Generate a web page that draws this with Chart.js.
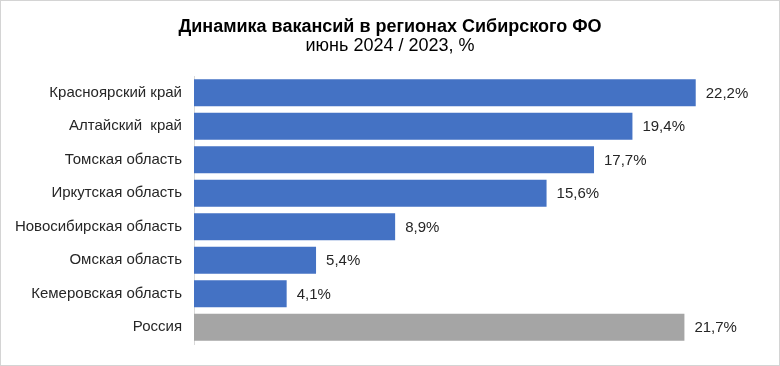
<!DOCTYPE html>
<html>
<head>
<meta charset="utf-8">
<script src="https://cdn.jsdelivr.net/npm/chart.js@4"></script>
<style>
  html, body { margin: 0; padding: 0; background: #fff; }
  #wrap { width: 780px; height: 366px; box-sizing: border-box; border: 1px solid #d4d4d4; position: relative; }
  canvas { display: block; }
</style>
</head>
<body>
<div id="wrap"><canvas id="chart" width="778" height="364"></canvas></div>
<script>
const regions = [
  "Красноярский край",
  "Алтайский  край",
  "Томская область",
  "Иркутская область",
  "Новосибирская область",
  "Омская область",
  "Кемеровская область",
  "Россия"
];
const growth = [22.2, 19.4, 17.7, 15.6, 8.9, 5.4, 4.1, 21.7];
const barColors = ["#4472C4", "#4472C4", "#4472C4", "#4472C4", "#4472C4", "#4472C4", "#4472C4", "#A5A5A5"];

const titleText = "Динамика вакансий в регионах Сибирского ФО";
const subtitleText = "июнь 2024 / 2023, %";

const FONT = "'Liberation Sans', Arial, sans-serif";

// заголовок и подписи значений
const drawText = {
  id: "drawText",
  afterDatasetsDraw(chart) {
    const ctx = chart.ctx;
    ctx.save();
    ctx.fillStyle = "#000";
    ctx.textAlign = "center";
    ctx.textBaseline = "middle";
    ctx.font = "bold 18px " + FONT;
    ctx.fillText(titleText, 389, 26);
    ctx.font = "18px " + FONT;
    ctx.fillText(subtitleText, 389, 45);

    const meta = chart.getDatasetMeta(0);
    ctx.font = "15px " + FONT;
    ctx.fillStyle = "#262626";
    ctx.textAlign = "left";
    meta.data.forEach((bar, i) => {
      ctx.fillText(growth[i].toFixed(1).replace(".", ",") + "%", bar.x + 10, bar.y + 1);
    });
    ctx.restore();
  }
};

new Chart(document.getElementById("chart"), {
  type: "bar",
  data: {
    labels: regions,
    datasets: [{
      data: growth,
      backgroundColor: barColors,
      barPercentage: 0.81,
      categoryPercentage: 1.0
    }]
  },
  options: {
    indexAxis: "y",
    responsive: false,
    animation: false,
    layout: { padding: { top: 75, bottom: 18, left: 0, right: 20 } },
    plugins: {
      legend: { display: false },
      tooltip: { enabled: false }
    },
    scales: {
      x: { display: false, min: 0, max: 25 },
      y: {
        afterFit(s) { s.width = 193; },
        grid: { display: false, drawTicks: false },
        border: { display: true, color: "#d9d9d9" },
        ticks: { color: "#262626", font: { size: 15, family: FONT }, padding: 12 }
      }
    }
  },
  plugins: [drawText]
});
</script>
</body>
</html>
